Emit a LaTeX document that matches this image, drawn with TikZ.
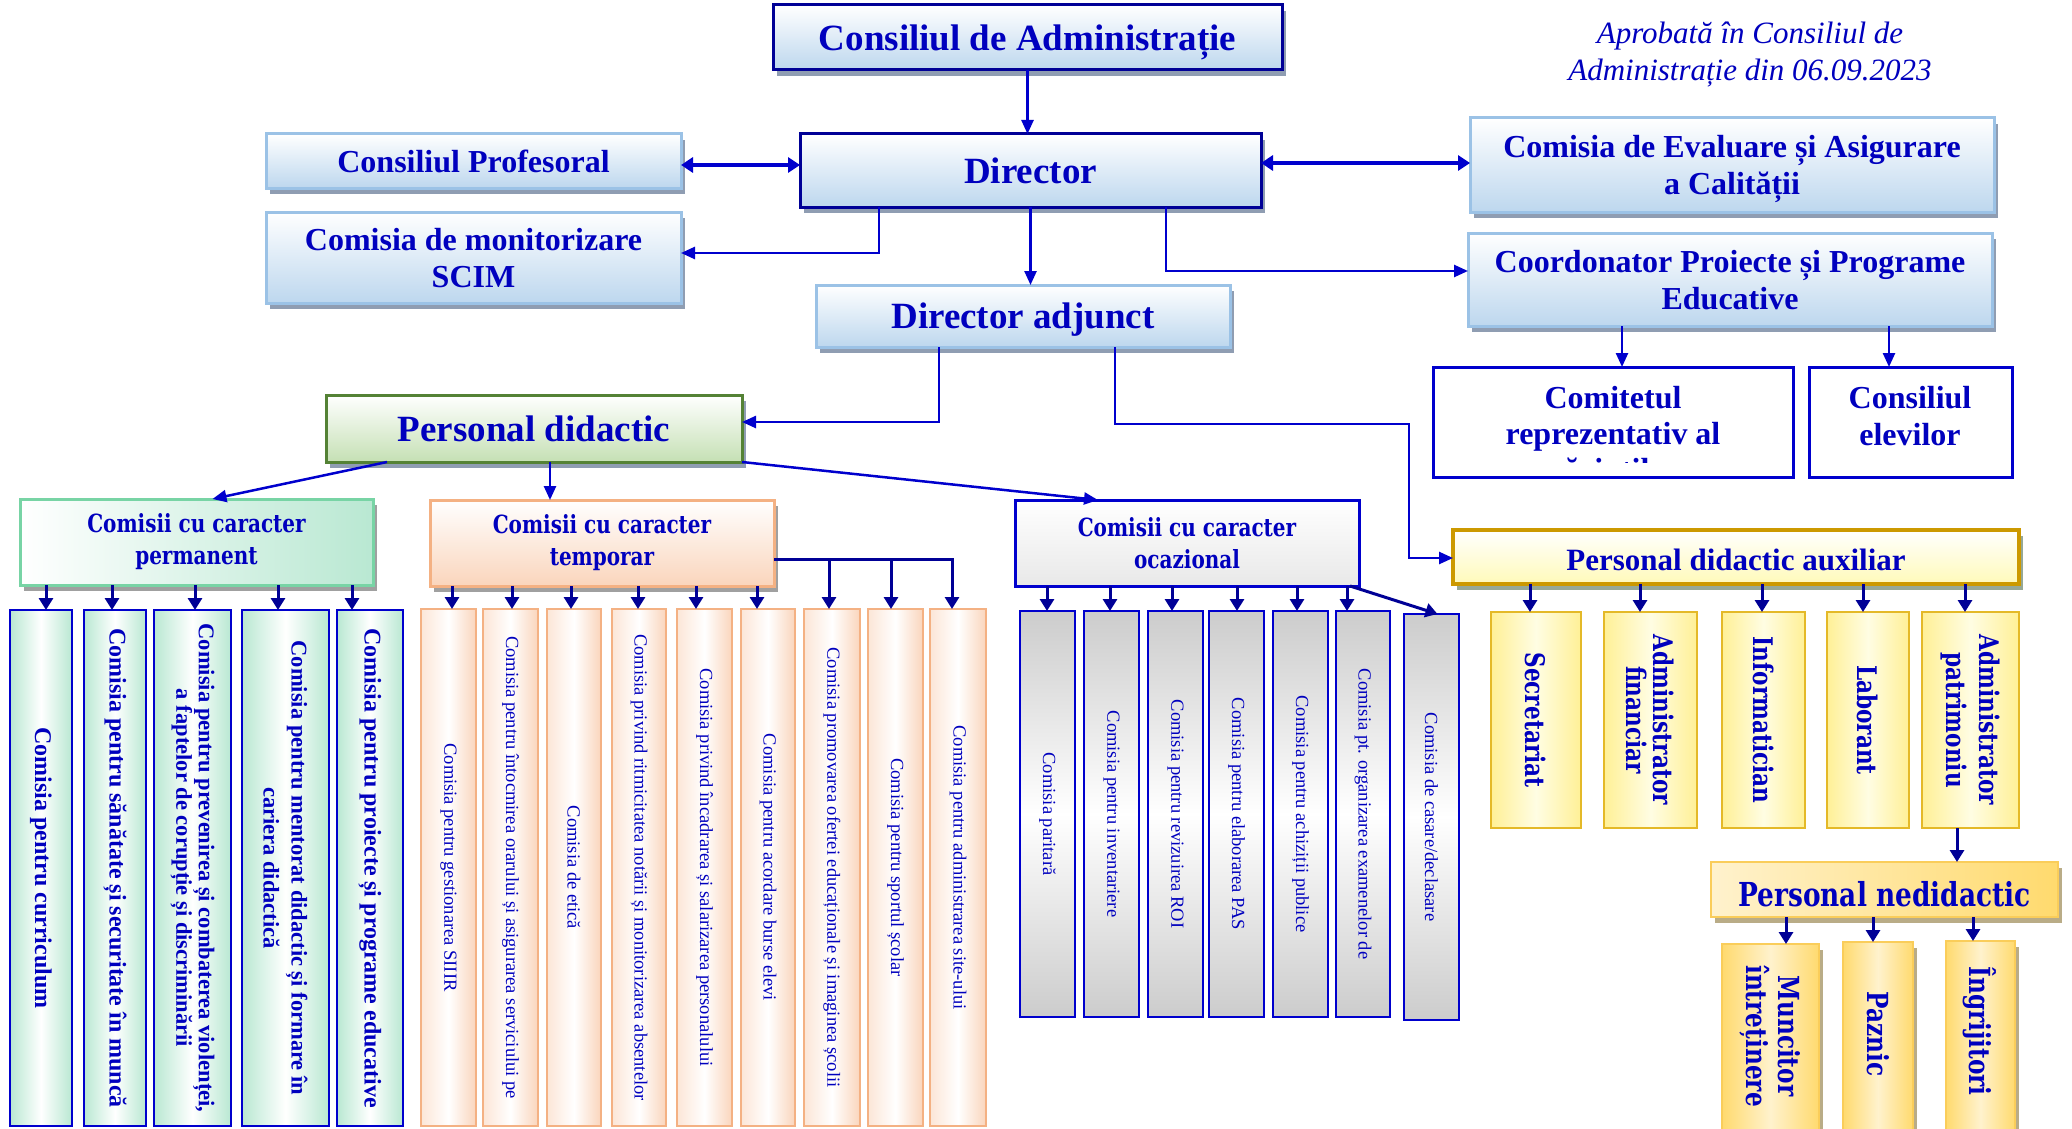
\documentclass[tikz,border=0pt]{standalone}
\usepackage{fontspec}
\setmainfont{Liberation Serif}
\newfontfamily\bkm[FakeStretch=0.8]{DejaVu Serif}
\usetikzlibrary{arrows.meta,shadows,calc}

\definecolor{tb}{RGB}{0,0,190}
\definecolor{lnb}{RGB}{0,0,205}
\definecolor{dkb}{RGB}{0,0,150}
\definecolor{lb}{RGB}{155,194,230}
\definecolor{lbf}{RGB}{189,215,238}
\definecolor{shb}{RGB}{143,157,178}
\definecolor{grb}{RGB}{84,130,53}
\definecolor{grf}{RGB}{197,224,180}
\definecolor{mintb}{RGB}{120,212,165}
\definecolor{mintf}{RGB}{185,232,210}
\definecolor{peachb}{RGB}{244,177,131}
\definecolor{peachf}{RGB}{250,213,188}
\definecolor{goldb}{RGB}{204,153,0}
\definecolor{yelf}{RGB}{255,250,185}
\definecolor{auxb}{RGB}{228,185,40}
\definecolor{auxf}{RGB}{255,240,150}
\definecolor{ndb}{RGB}{250,205,90}
\definecolor{ndf}{RGB}{255,218,110}
\definecolor{ndl}{RGB}{255,242,205}
\definecolor{shgray}{RGB}{160,160,160}
\definecolor{shgreen}{RGB}{150,168,150}
\definecolor{shbrown}{RGB}{185,172,135}

\newcommand{\bx}[7]{\node[#2,anchor=north west,minimum width={#5pt-#3pt},minimum height={#6pt-#4pt}] (#1) at (#3,#4) {#7};}
\newcommand{\fs}[2]{\fontsize{#1}{#2}\selectfont}

\begin{document}
\begin{tikzpicture}[x=1pt,y=-1pt,
  every node/.style={inner sep=0pt,outer sep=0pt,text=tb,align=center},
  shd/.style={drop shadow={shadow xshift=4pt,shadow yshift=-6pt,fill=#1,opacity=1}},
  shd/.default=shb,
  bluebox/.style={draw=lb,line width=3pt,top color=white,bottom color=lbf,shd,text depth=0pt,font=\bfseries\fs{32}{37}},
  darkbox/.style={bluebox,draw=dkb,font=\bfseries\fs{37}{42}},
  greenbox/.style={draw=grb,line width=3pt,top color=white,bottom color=grf,shd,font=\bfseries\fs{37}{42}},
  permh/.style={draw=mintb,line width=3pt,left color=white,right color=mintf,shd=shgray,font=\bkm\bfseries\fs{25}{32}},
  temph/.style={draw=peachb,line width=3pt,top color=white,bottom color=peachf,shd=shgray,font=\bkm\bfseries\fs{25}{32}},
  ocazh/.style={draw=lnb,line width=3pt,top color=white,bottom color=gray!18,font=\bkm\bfseries\fs{25}{32}},
  permv/.style={draw=lnb,line width=2.5pt,left color=mintf,right color=mintf,middle color=white},
  tempv/.style={draw=peachb,line width=2.5pt,left color=peachf!60,right color=peachf,middle color=white},
  ocazv/.style={draw=lnb,line width=2.5pt,top color=gray!40,bottom color=gray!40,middle color=white},
  plainbox/.style={draw=lnb,line width=3pt,fill=white},
  pdabox/.style={draw=goldb,line width=3.5pt,top color=white,bottom color=yelf,shd=shgreen},
  auxv/.style={draw=auxb,line width=2.5pt,left color=auxf,right color=auxf,middle color=yelf!40},
  ndh/.style={draw=ndb,line width=2pt,left color=ndl,right color=ndf,shd=shbrown},
  ndv/.style={draw=ndb,line width=2pt,left color=ndf,right color=ndf,middle color=ndl,shd=shbrown},
  vtp/.style={rotate=-90,font=\bfseries\fs{24}{27}},
  vtr/.style={rotate=-90,font=\fs{18.5}{21}},
  vta/.style={rotate=-90,font=\bkm\bfseries\fs{27}{30}},
  arr/.style={draw=lnb,line width=2.5pt,-{Triangle[length=14pt,width=12pt]}},
  darr/.style={draw=lnb,line width=3.5pt,{Triangle[length=12pt,width=15pt]}-{Triangle[length=12pt,width=15pt]}},
  arrS/.style={draw=dkb,line width=3pt,-{Triangle[length=12pt,width=14pt]}}
]
\useasboundingbox (0,0) rectangle (2072,1129);
\fill[white] (0,0) rectangle (2072,1129);

% ---------- top part
\bx{cda}{darkbox}{773}{5}{1282}{70}{Consiliul de Administrație}
\bx{dir}{darkbox}{800}{134}{1261}{207}{Director}
\bx{cp}{bluebox}{266}{134}{681}{188}{Consiliul Profesoral}
\bx{scim}{bluebox}{266}{212}{681}{303}{Comisia de monitorizare\\SCIM}
\bx{da}{bluebox,font=\bfseries\fs{37}{42}}{816}{285}{1230}{347}{Director adjunct}
\bx{ceac}{bluebox}{1470}{118}{1994}{212}{Comisia de Evaluare și Asigurare\\a Calității}
\bx{coord}{bluebox}{1468}{233}{1992}{326}{Coordonator Proiecte și Programe\\Educative}
\bx{crp}{plainbox}{1433}{367}{1793}{477}{}
\bx{ce}{plainbox}{1809}{367}{2012}{477}{}
\node[font=\bfseries\fs{32}{37},anchor=north] (cet) at (1910,386) {Consiliul\\elevilor};
\begin{scope}
  \clip (1437,371) rectangle (1789,462);
  \node[font=\bfseries\fs{32}{36},anchor=north] (crpt) at (1613,386) {Comitetul\\reprezentativ al\\părinților};
\end{scope}
\node[font=\itshape\fs{31}{37}] (apr) at (1750,55) {Aprobată în Consiliul de\\Administrație din 06.09.2023};

\bx{pd}{greenbox}{326}{395}{742}{462}{Personal didactic}

% ---------- permanent
\bx{perm}{permh}{20}{499}{373}{585}{Comisii cu caracter\\permanent}
\bx{p1}{permv}{10}{610}{72}{1126}{}
\bx{p2}{permv}{84}{610}{146}{1126}{}
\bx{p3}{permv}{154}{610}{231}{1126}{}
\bx{p4}{permv}{242}{610}{329}{1126}{}
\bx{p5}{permv}{337}{610}{403}{1126}{}
\node[vtp] (p1t) at (p1) {Comisia pentru curriculum};
\node[vtp] (p2t) at (p2) {Comisia pentru sănătate și securitate în muncă};
\node[vtp,font=\bfseries\fs{22.5}{20}] (p3t) at (p3) {Comisia pentru prevenirea și combaterea violenței,\\a faptelor de corupție și discriminării};
\node[vtp,font=\bfseries\fs{22.5}{28}] (p4t) at (p4) {Comisia pentru mentorat didactic și formare în\\cariera didactică};
\node[vtp] (p5t) at (p5) {Comisia pentru proiecte și programe educative};

% ---------- temporar
\bx{temp}{temph}{430}{500}{774}{586}{Comisii cu caracter\\temporar}
\bx{t1}{tempv}{421}{609}{476}{1126}{}
\bx{t2}{tempv}{483}{609}{538}{1126}{}
\bx{t3}{tempv}{547}{609}{601}{1126}{}
\bx{t4}{tempv}{612}{609}{666}{1126}{}
\bx{t5}{tempv}{677}{609}{732}{1126}{}
\bx{t6}{tempv}{741}{609}{795}{1126}{}
\bx{t7}{tempv}{804}{609}{860}{1126}{}
\bx{t8}{tempv}{868}{609}{923}{1126}{}
\bx{t9}{tempv}{930}{609}{986}{1126}{}
\node[vtr] (t1t) at (t1) {Comisia pentru gestionarea SIIIR};
\node[vtr] (t2t) at (t2) {Comisia pentru întocmirea orarului și asigurarea serviciului pe};
\node[vtr] (t3t) at (t3) {Comisia de etică};
\node[vtr] (t4t) at (t4) {Comisia privind ritmicitatea notării și monitorizarea absentelor};
\node[vtr] (t5t) at (t5) {Comisia privind încadrarea și salarizarea personalului};
\node[vtr] (t6t) at (t6) {Comisia pentru acordare burse elevi};
\node[vtr] (t7t) at (t7) {Comisia promovarea ofertei educaționale și imaginea școlii};
\node[vtr] (t8t) at (t8) {Comisia pentru sportul școlar};
\node[vtr] (t9t) at (t9) {Comisia pentru administrarea site-ului};

% ---------- ocazional
\bx{ocaz}{ocazh}{1015}{500}{1359}{586}{Comisii cu caracter\\ocazional}
\bx{o1}{ocazv}{1020}{611}{1075}{1017}{}
\bx{o2}{ocazv}{1084}{611}{1139}{1017}{}
\bx{o3}{ocazv}{1148}{611}{1203}{1017}{}
\bx{o4}{ocazv}{1209}{611}{1264}{1017}{}
\bx{o5}{ocazv}{1273}{611}{1328}{1017}{}
\bx{o6}{ocazv}{1336}{611}{1390}{1017}{}
\bx{o7}{ocazv}{1404}{614}{1459}{1020}{}
\node[vtr] (o1t) at (o1) {Comisia paritară};
\node[vtr] (o2t) at (o2) {Comisia pentru inventariere};
\node[vtr] (o3t) at (o3) {Comisia pentru revizuirea ROI};
\node[vtr] (o4t) at (o4) {Comisia pentru elaborarea PAS};
\node[vtr] (o5t) at (o5) {Comisia pentru achiziții publice};
\node[vtr] (o6t) at (o6) {Comisia pt. organizarea examenelor de};
\node[vtr] (o7t) at (o7) {Comisia de casare/declasare};

% ---------- auxiliar
\bx{pda}{pdabox}{1453}{530}{2019}{584}{}
\node[font=\bfseries\fs{31}{36}] (pdat) at ([yshift=-3pt]pda.center) {Personal didactic auxiliar};
\bx{a1}{auxv}{1491}{612}{1581}{828}{}
\bx{a2}{auxv}{1604}{612}{1697}{828}{}
\bx{a3}{auxv}{1722}{612}{1805}{828}{}
\bx{a4}{auxv}{1827}{612}{1909}{828}{}
\bx{a5}{auxv}{1922}{612}{2019}{828}{}
\node[vta] (a1t) at (a1) {Secretariat};
\node[vta,font=\bkm\bfseries\fs{27}{27}] (a2t) at (a2) {Administrator\\financiar};
\node[vta] (a3t) at (a3) {Informatician};
\node[vta] (a4t) at (a4) {Laborant};
\node[vta,font=\bkm\bfseries\fs{27}{33}] (a5t) at (a5) {Administrator\\patrimoniu};

% ---------- nedidactic
\bx{pnd}{ndh}{1711}{862}{2058}{917}{}
\node[font=\bkm\bfseries\fs{33}{36}] (pndt) at ([yshift=-5pt]pnd.center) {Personal nedidactic};
\bx{n1}{ndv}{1722}{944}{1819}{1134}{}
\bx{n2}{ndv}{1843}{942}{1913}{1134}{}
\bx{n3}{ndv}{1946}{941}{2015}{1134}{}
\node[vta,font=\bkm\bfseries\fs{29}{32}] (n1t) at (1770,1036) {Muncitor\\întreținere};
\node[vta,font=\bkm\bfseries\fs{29}{32}] (n2t) at (1878,1034) {Paznic};
\node[vta,font=\bkm\bfseries\fs{29}{32}] (n3t) at (1980,1031) {Îngrijitori};

% ---------- connectors (top)
\draw[arr] (cda.south) -- (cda.south |- dir.north);
\coordinate (yB) at (0,165);
\coordinate (yA) at (0,163);
\draw[darr] (yB -| cp.east) -- (yB -| dir.west);
\draw[darr] (yA -| dir.east) -- (yA -| ceac.west);
\coordinate (xS) at (879,253);
\draw[arr] (xS |- dir.south) |- (xS -| scim.east);
\coordinate (xC) at (1166,271);
\draw[arr] (xC |- dir.south) |- (xC -| coord.west);
\draw[arr] (dir.south) -- (dir.south |- da.north);
\coordinate (xc1) at (1622,0);
\draw[arr] (xc1 |- coord.south) -- (xc1 |- crp.north);
\coordinate (xc2) at (1889,0);
\draw[arr] (xc2 |- coord.south) -- (xc2 |- ce.north);
\coordinate (xP) at (939,422);
\draw[arr] (xP |- da.south) |- (xP -| pd.east);
\coordinate (xQ) at (1115,424);
\coordinate (kq) at (1409,424);
\coordinate (yq) at (0,558);
\draw[arr] (xQ |- da.south) |- (kq) |- (yq -| pda.west);

% ---------- connectors (personal didactic)
\draw[arr] ([xshift=61pt]pd.south west) -- ([xshift=16pt]perm.north);
\coordinate (xT) at (550,0);
\draw[arr] (xT |- pd.south) -- (xT |- temp.north);
\draw[arr] (pd.south east) -- ([xshift=-89pt]ocaz.north);

\foreach \x/\b in {46/p1,112/p2,195/p3,278/p4,352/p5}{
  \coordinate (tmp) at (\x,0);
  \draw[arrS] (tmp |- perm.south) -- (tmp |- \b.north);
}
\foreach \x/\b in {452/t1,512/t2,571/t3,638/t4,696/t5,757/t6}{
  \coordinate (tmp) at (\x,0);
  \draw[arrS] (tmp |- temp.south) -- (tmp |- \b.north);
}
\coordinate (yt) at (0,559);
\foreach \x/\b in {829/t7,891/t8,952/t9}{
  \coordinate (tmp) at (\x,0);
  \draw[arrS] (yt -| temp.east) -| (tmp |- \b.north);
}
\foreach \x/\b in {1047/o1,1110/o2,1172/o3,1237/o4,1297/o5,1347/o6}{
  \coordinate (tmp) at (\x,0);
  \draw[arrS] (tmp |- ocaz.south) -- (tmp |- \b.north);
}
\draw[arrS] ([xshift=-9pt]ocaz.south east) -- ([xshift=6pt]o7.north);
\foreach \x/\b in {1530/a1,1640/a2,1762/a3,1863/a4,1965/a5}{
  \coordinate (tmp) at (\x,0);
  \draw[arrS] (tmp |- pda.south) -- (tmp |- \b.north);
}
\coordinate (xN) at (1957,0);
\draw[arrS] (xN |- a5.south) -- (xN |- pnd.north);
\foreach \x/\b in {1786/n1,1873/n2,1973/n3}{
  \coordinate (tmp) at (\x,0);
  \draw[arrS] (tmp |- pnd.south) -- (tmp |- \b.north);
}
\end{tikzpicture}
\end{document}
